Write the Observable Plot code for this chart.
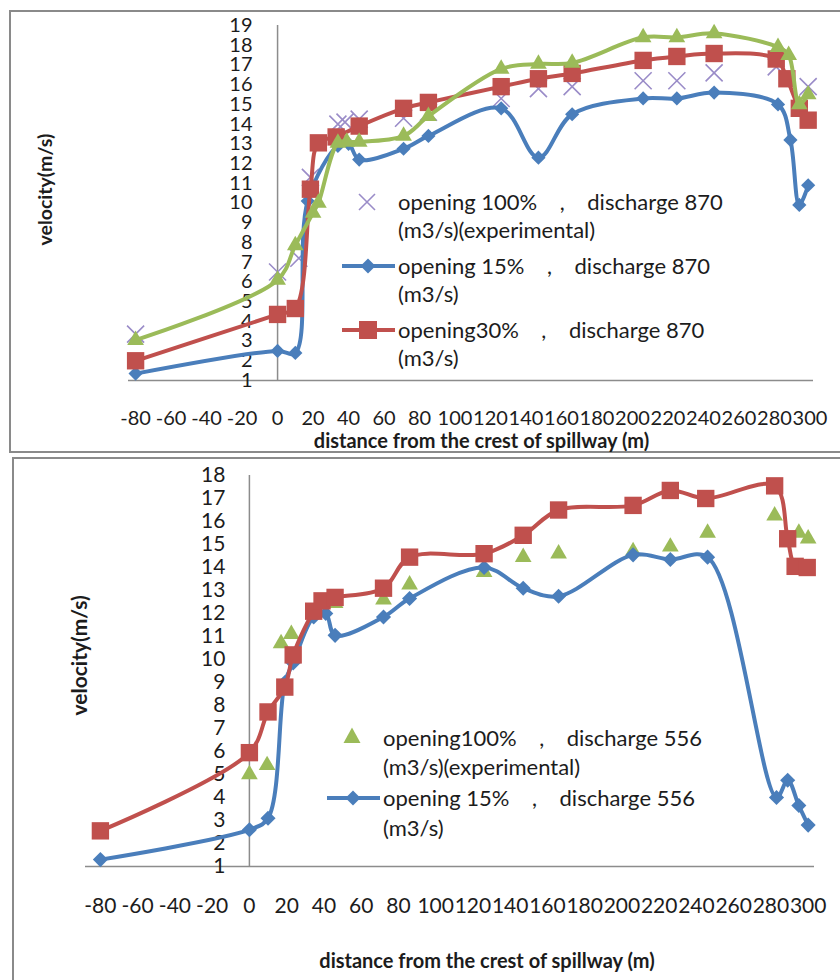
<!DOCTYPE html>
<html>
<head>
<meta charset="utf-8">
<script src="https://cdn.jsdelivr.net/npm/d3@7"></script>
<script src="https://cdn.jsdelivr.net/npm/@observablehq/plot@0.6"></script>
<style>
  body { margin: 0; background: #fff; width: 840px; height: 980px; position: relative; overflow: hidden;
         font-family: Lato, "Open Sans", sans-serif; color: #1c1c1c; }
  .panel { position: absolute; left: 0; width: 840px; }
  .frame { position: absolute; border: 2px solid #8a8a8a; border-right: none; box-sizing: border-box; }
  .key { position: absolute; font-size: 22px; white-space: pre; }
  .key svg { position: absolute; overflow: visible; }
</style>
</head>
<body>
<div class="frame" style="left:9px;top:10px;width:840px;height:443px"></div>
<div class="frame" style="left:12px;top:457px;width:840px;height:540px"></div>
<div id="top" class="panel" style="top:0"></div>
<div id="bottom" class="panel" style="top:455px"></div>
<div id="keys"></div>
<script>
// ---- tick labels ----
const xTicks = [-80, -60, -40, -20, 0, 20, 40, 60, 80, 100, 120, 140, 160, 180, 200, 220, 240, 260, 280, 300];
const yTicksTop = [1, 2, 3, 4, 5, 6, 7, 8, 9, 10, 11, 12, 13, 14, 15, 16, 17, 18, 19];
const yTicksBottom = [1, 2, 3, 4, 5, 6, 7, 8, 9, 10, 11, 12, 13, 14, 15, 16, 17, 18];

// ---- discharge 870 m3/s ----
const exp870Dist = [-80, 0, 12, 18.5, 34, 38, 46, 71, 85, 126, 147, 166, 206, 225, 246, 281, 299];
const exp870Vel  = [3.35, 6.5, 7.2, 11.3, 14.0, 14.1, 14.25, 14.3, 14.6, 15.3, 15.8, 15.9, 16.2, 16.2, 16.6, 16.9, 15.9];

const op15_870Dist = [-80, 0, 10, 17, 34, 40, 46, 71, 85, 126, 147, 166, 206, 225, 246, 282, 289, 294, 299];
const op15_870Vel  = [1.35, 2.5, 2.4, 10.1, 12.9, 13.0, 12.2, 12.75, 13.4, 14.8, 12.3, 14.5, 15.3, 15.3, 15.6, 15.0, 13.2, 9.9, 10.9];

const op30_870Dist = [-80, 0, 10, 18.5, 23, 33, 46, 71, 85, 126, 147, 166, 206, 225, 246, 281, 287, 294, 299];
const op30_870Vel  = [2.0, 4.35, 4.65, 10.7, 13.05, 13.35, 13.9, 14.8, 15.1, 15.9, 16.3, 16.57, 17.23, 17.43, 17.58, 17.3, 16.3, 14.8, 14.2];

const op100_870Dist = [-80, 0, 10, 20, 23, 34, 39, 46, 71, 85, 126, 147, 166, 206, 225, 246, 282, 288, 294, 299];
const op100_870Vel  = [3.05, 6.1, 7.85, 9.5, 10.0, 13.05, 13.1, 13.1, 13.4, 14.4, 16.8, 17.05, 17.1, 18.4, 18.4, 18.6, 17.9, 17.5, 15.0, 15.5];

// ---- discharge 556 m3/s ----
const exp556Dist = [0, 9.5, 17, 22.5, 46, 72, 86, 126, 147, 166, 206, 226, 246, 282, 295, 300];
const exp556Vel  = [5.0, 5.4, 10.7, 11.1, 12.45, 12.6, 13.25, 13.8, 14.45, 14.6, 14.7, 14.9, 15.5, 16.25, 15.5, 15.25];

const op15_556Dist = [-80, 0, 10, 19, 23.5, 34.5, 41, 46, 72, 86, 126, 147, 166, 206, 226, 246, 283, 289, 295, 300];
const op15_556Vel  = [1.3, 2.6, 3.1, 9.0, 9.85, 11.85, 12.0, 11.05, 11.85, 12.65, 14.0, 13.1, 12.75, 14.55, 14.35, 14.45, 4.0, 4.75, 3.65, 2.8];

const op30_556Dist = [-80, 0, 10, 19, 23.5, 34.5, 39, 46, 72, 86, 126, 147, 166, 206, 226, 245, 282, 289, 293, 299.5];
const op30_556Vel  = [2.55, 5.95, 7.72, 8.8, 10.2, 12.1, 12.55, 12.7, 13.1, 14.45, 14.6, 15.4, 16.5, 16.7, 17.35, 17.0, 17.55, 15.25, 14.05, 14.0];

// ---- text ----
const xTitle = "distance from the crest of spillway (m)";
const yTitle = "velocity(m/s)";
const keysTop = [
  ["opening 100%    ,    discharge 870", "(m3/s)(experimental)"],
  ["opening 15%    ,    discharge 870", "(m3/s)"],
  ["opening30%    ,    discharge 870", "(m3/s)"]
];
const keysBottom = [
  ["opening100%    ,    discharge 556", "(m3/s)(experimental)"],
  ["opening 15%    ,    discharge 556", "(m3/s)"]
];

const purple = "#9a8cc8", blue = "#4a7ebb", red = "#c0504d", green = "#9bbb59", axisGray = "#8c8c8c";
const rows = (dist, vel) => dist.map((d, i) => ({d, v: vel[i]}));

function series(data, color, symbol, r, withLine) {
  const marks = [];
  if (withLine) marks.push(Plot.line(data, {x: "d", y: "v", stroke: color, strokeWidth: 4, curve: "catmull-rom"}));
  if (symbol === "times") {
    marks.push(Plot.dot(data, {x: "d", y: "v", symbol, r, stroke: color, strokeWidth: 1.6}));
  } else {
    marks.push(Plot.dot(data, {x: "d", y: "v", symbol, r, fill: color, stroke: "none"}));
  }
  return marks;
}

function frameMarks(yTicks, fs, xfs, tickDx, titles) {
  return [
    Plot.ruleX([0], {stroke: axisGray, strokeWidth: 1.5}),
    Plot.ruleY([1], {stroke: axisGray, strokeWidth: 1.5}),
    Plot.text(yTicks, {x: () => 0, y: d => d, text: d => String(d), textAnchor: "end", dx: tickDx, fontSize: fs}),
    Plot.text(xTicks, {x: d => d, y: () => 1, text: d => String(d), dy: titles.tdy, fontSize: xfs}),
    Plot.text([xTitle], {frameAnchor: "bottom", dx: titles.xdx, dy: titles.xdy, fontWeight: "bold", fontSize: 20}),
    Plot.text([yTitle], {frameAnchor: "left", rotate: -90, dx: titles.ydx, dy: titles.ydy, fontWeight: "bold", fontSize: titles.yfs})
  ];
}

const style = {fontFamily: "Lato, 'Open Sans', sans-serif", color: "#1c1c1c", background: "transparent", overflow: "visible"};

const topChart = Plot.plot({
  width: 840, height: 455,
  marginLeft: 128, marginRight: 27, marginTop: 25, marginBottom: 75,
  x: {domain: [-84, 302], axis: null},
  y: {domain: [1, 19], axis: null},
  style,
  marks: [
    ...frameMarks(yTicksTop, 20, 20, -25, {tdy: 38, xdx: 10.5, xdy: 67, ydx: -83, ydy: 42.5, yfs: 19.5}),
    ...series(rows(exp870Dist, exp870Vel), purple, "times", 7.8, false),
    ...series(rows(op15_870Dist, op15_870Vel), blue, "diamond2", 6.4, true),
    ...series(rows(op30_870Dist, op30_870Vel), red, "square", 9.8, true),
    ...series(rows(op100_870Dist, op100_870Vel), green, "triangle", 6.2, true)
  ]
});
document.getElementById("top").append(topChart);

const bottomChart = Plot.plot({
  width: 840, height: 525,
  marginLeft: 85, marginRight: 26, marginTop: 20, marginBottom: 114,
  x: {domain: [-88, 303.4], axis: null},
  y: {domain: [1, 18], axis: null},
  style,
  marks: [
    ...frameMarks(yTicksBottom, 21, 21, -24, {tdy: 40, xdx: 37, xdy: 101, ydx: -5, ydy: 44.5, yfs: 21}),
    ...series(rows(exp556Dist, exp556Vel), green, "triangle", 6.2, false),
    ...series(rows(op15_556Dist, op15_556Vel), blue, "diamond2", 6.8, true),
    ...series(rows(op30_556Dist, op30_556Vel), red, "square", 9.8, true)
  ]
});
document.getElementById("bottom").append(bottomChart);

// ---- legends drawn inside the plotting areas ----
const icons = {
  times: (c) => `<path d="M-8,-8L8,8M-8,8L8,-8" stroke="${c}" stroke-width="1.6" fill="none"/>`,
  diamond: (c) => `<line x1="-26" x2="27" y1="0" y2="0" stroke="${c}" stroke-width="4"/><path d="M0,-7.5L7.5,0L0,7.5L-7.5,0Z" fill="${c}"/>`,
  square: (c) => `<line x1="-26" x2="27" y1="0" y2="0" stroke="${c}" stroke-width="4"/><rect x="-9" y="-9" width="18" height="18" fill="${c}"/>`,
  triangle: (c) => `<path d="M0,-9.5L8.5,6L-8.5,6Z" fill="${c}"/>`
};
function addKey(lines, icon, color, iconX, textX, lineY, lh) {
  const div = document.createElement("div");
  div.className = "key";
  div.style.left = textX + "px";
  div.style.top = (lineY - lh / 2) + "px";
  div.style.lineHeight = lh + "px";
  div.textContent = lines.join("\n");
  const svg = document.createElementNS("http://www.w3.org/2000/svg", "svg");
  svg.setAttribute("width", 1); svg.setAttribute("height", 1);
  svg.style.left = (iconX - textX) + "px";
  svg.style.top = (lh / 2) + "px";
  svg.innerHTML = icons[icon](color);
  div.append(svg);
  document.getElementById("keys").append(div);
}
addKey(keysTop[0], "times", purple, 367, 398, 202, 28.5);
addKey(keysTop[1], "diamond", blue, 368, 398, 266, 28.5);
addKey(keysTop[2], "square", red, 368, 398, 330, 28.5);
addKey(keysBottom[0], "triangle", green, 352, 383, 737, 29);
addKey(keysBottom[1], "diamond", blue, 353, 383, 798, 29.5);
</script>
</body>
</html>
